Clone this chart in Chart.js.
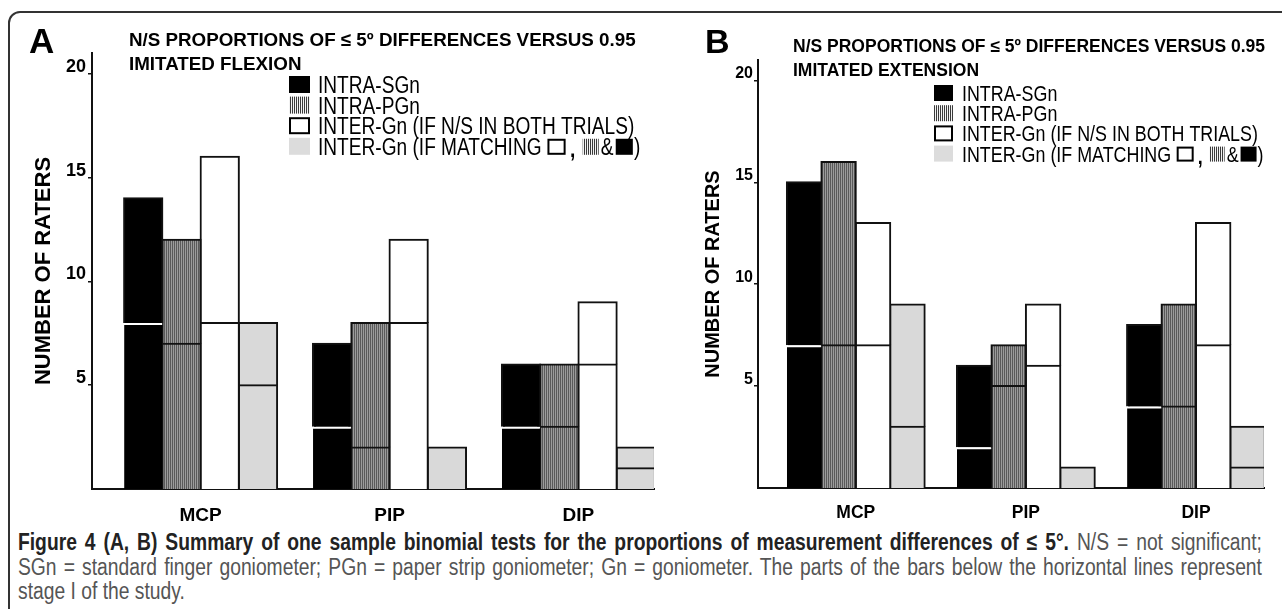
<!DOCTYPE html>
<html>
<head>
<meta charset="utf-8">
<script src="https://cdn.jsdelivr.net/npm/chart.js@4.4.1/dist/chart.umd.min.js"></script>
<style>
  html, body { margin: 0; padding: 0; background: #fff; }
  body { width: 1282px; height: 609px; position: relative; overflow: hidden; font-family: "Liberation Sans", Arial, sans-serif; }
  #frame { position: absolute; left: 8px; top: 11px; width: 1300px; height: 620px; border: 2px solid #333; border-top-left-radius: 12px; box-sizing: border-box; }
  canvas { position: absolute; top: 0; }
  #chartA { left: 0; }
  #chartB { left: 670px; }
  #caption { position: absolute; left: 18px; top: 530px; width: 1517px; transform: scaleX(0.82); transform-origin: 0 0; font-size: 23.5px; line-height: 24.5px; color: #555; }
  #caption .j { text-align: justify; text-align-last: justify; }
  #caption b { color: #222; }
</style>
</head>
<body>
<div id="frame"></div>
<canvas id="chartA" width="670" height="525"></canvas>
<canvas id="chartB" width="612" height="525"></canvas>
<div id="caption">
  <div class="j"><b>Figure 4 (A, B) Summary of one sample binomial tests for the proportions of measurement differences of ≤ 5°.</b> N/S = not significant;</div>
  <div class="j">SGn = standard finger goniometer; PGn = paper strip goniometer; Gn = goniometer. The parts of the bars below the horizontal lines represent</div>
  <div>stage I of the study.</div>
</div>
<script>
const joints = ['MCP', 'PIP', 'DIP']
const yTicks = [5, 10, 15, 20]
const seriesNames = ['INTRA-SGn', 'INTRA-PGn', 'INTER-Gn (IF N/S IN BOTH TRIALS)', 'INTER-Gn (IF MATCHING']

// A - imitated flexion: bar heights and the stage I part (below the line)
const flexSgn = [14, 7, 6]
const flexSgnStage1 = [8, 3, 3]
const flexPgn = [12, 8, 6]
const flexPgnStage1 = [7, 2, 3]
const flexInter = [16, 12, 9]
const flexInterStage1 = [8, 8, 6]
const flexMatch = [8, 2, 2]
const flexMatchStage1 = [5, 2, 1]

// B - imitated extension
const extSgn = [15, 6, 8]
const extSgnStage1 = [7, 2, 4]
const extPgn = [16, 7, 9]
const extPgnStage1 = [7, 5, 4]
const extInter = [13, 9, 13]
const extInterStage1 = [7, 6, 7]
const extMatch = [9, 1, 3]
const extMatchStage1 = [3, 1, 1]

const sans = '"Liberation Sans", Arial, sans-serif'
Chart.defaults.font.family = sans

function stripes(colors){
    const c = document.createElement('canvas')
    c.width = colors.length
    c.height = 4
    const g = c.getContext('2d')
    colors.forEach((col, i) => { g.fillStyle = col; g.fillRect(i, 0, 1, 4) })
    return g.createPattern(c, 'repeat')
}
const barStripes = stripes(['#5a5a5a', '#9c9c9c'])
const keyStripes = stripes(['#3a3a3a', '#f2f2f2'])
const fills = ['#000000', barStripes, '#ffffff', '#d9d9d9']

function makeDatasets(totals, stage1s){
    let sets = []
    for(let i = 0 ; i < totals.length ; i++)
    {
        const lower = stage1s[i]
        const upper = totals[i].map((v, j) => v - lower[j])
        sets.push({
            label: seriesNames[i] + ' stage I',
            stack: 's' + i,
            data: lower.map((v, j) => ({x: j, y: v})),
            backgroundColor: fills[i],
            borderColor: i === 0 ? '#ffffff' : '#111111',
            borderWidth: i === 0 ? {top: 2, left: 0, right: 0, bottom: 0} : 2,
            inflateAmount: i === 0 ? 0 : 1
        })
        sets.push({
            label: seriesNames[i],
            stack: 's' + i,
            data: upper.map((v, j) => ({x: j, y: v})),
            backgroundColor: fills[i],
            borderColor: '#111111',
            borderWidth: 2,
            inflateAmount: 1
        })
    }
    return sets
}

function swatch(ctx, kind, x, y, w, h){
    if(kind === 0) { ctx.fillStyle = '#000'; ctx.fillRect(x, y, w, h) }
    else if(kind === 1) { ctx.fillStyle = keyStripes; ctx.fillRect(x, y, w, h) }
    else if(kind === 2) {
        ctx.fillStyle = '#fff'; ctx.fillRect(x, y, w, h)
        ctx.strokeStyle = '#000'; ctx.lineWidth = 2; ctx.strokeRect(x + 1, y + 1, w - 2, h - 2)
    }
    else { ctx.fillStyle = '#dcdcdc'; ctx.fillRect(x, y, w, h) }
}

// condensed text: regular face squeezed horizontally
function narrow(ctx, text, x, y){
    ctx.save()
    ctx.translate(x, y)
    ctx.scale(0.82, 1)
    ctx.fillStyle = '#000'
    ctx.fillText(text, 0, 0)
    const w = ctx.measureText(text).width * 0.82
    ctx.restore()
    return x + w
}

function textPlugin(g){
    return {
        id: 'panelText',
        afterDraw(chart){
            const ctx = chart.ctx
            ctx.save()
            ctx.fillStyle = '#000'
            ctx.textBaseline = 'alphabetic'
            ctx.font = `bold ${g.letterSize}px ${sans}`
            ctx.fillText(g.letter, g.letterX, g.letterY)
            ctx.font = `bold ${g.titleSize}px ${sans}`
            g.title.forEach((t, i) => ctx.fillText(t, g.titleX, g.titleY + i * g.titleGap))

            const k = g.legendSize / 21.8
            for(let i = 0 ; i < seriesNames.length ; i++)
            {
                const top = g.legendTop + i * g.legendGap
                const base = top + g.swH
                swatch(ctx, i, g.legendX, top, g.swW, g.swH)
                ctx.font = `${g.legendSize}px ${sans}`
                let x = narrow(ctx, seriesNames[i], g.legendTextX, base)
                if(i === 3)
                {
                    x += 5.5 * k
                    swatch(ctx, 2, x, base - 15 * k, 17 * k, 15 * k)
                    x += 21 * k
                    ctx.font = `bold ${g.legendSize}px ${sans}`
                    x = narrow(ctx, ',', x, base + 2 * k) + 7 * k
                    swatch(ctx, 1, x, base - 15 * k, 15 * k, 15 * k)
                    x += 17 * k
                    ctx.font = `${g.legendSize}px ${sans}`
                    x = narrow(ctx, '&', x, base) + 2 * k
                    swatch(ctx, 0, x, base - 15 * k, 16 * k, 15 * k)
                    x += 17 * k
                    narrow(ctx, ')', x, base)
                }
            }
            ctx.restore()
        }
    }
}

function panel(g, datasets){
    return new Chart(document.getElementById(g.id), {
        type: 'bar',
        data: { datasets: datasets },
        options: {
            responsive: false,
            animation: false,
            devicePixelRatio: 1,
            layout: { padding: g.pad },
            plugins: { legend: { display: false }, tooltip: { enabled: false }, title: { display: false } },
            datasets: { bar: { categoryPercentage: 0.81, barPercentage: 1, borderSkipped: 'start' } },
            scales: {
                x: {
                    type: 'linear', min: -0.575, max: 2.4, offset: false, stacked: true, z: 1,
                    afterBuildTicks: axis => { axis.ticks = joints.map((j, i) => ({value: i})) },
                    ticks: { callback: v => joints[v], color: '#000', padding: 7, font: { size: g.catSize, weight: 'bold' } },
                    grid: { display: false },
                    border: { display: true, color: '#111', width: 2 },
                    afterFit: axis => { axis.height = g.xHeight }
                },
                y: {
                    min: 0, max: 21, stacked: true,
                    afterBuildTicks: axis => { axis.ticks = yTicks.map(v => ({value: v})) },
                    ticks: { color: '#000', padding: g.tickPad, labelOffset: -7, font: { size: g.tickSize, weight: 'bold' } },
                    grid: { drawOnChartArea: false, drawTicks: true, tickLength: 4, color: '#111', lineWidth: 1.5 },
                    border: { display: true, color: '#111', width: 2 },
                    title: { display: true, text: 'NUMBER OF RATERS', color: '#000', padding: 0, font: { size: g.yTitleSize, weight: 'bold' } },
                    afterFit: axis => { axis.width = g.yWidth }
                }
            }
        },
        plugins: [textPlugin(g)]
    })
}

panel({
    id: 'chartA', pad: {left: 31, top: 53, right: 16, bottom: 0}, yWidth: 61, xHeight: 36,
    tickSize: 18, tickPad: 2, catSize: 19, yTitleSize: 22,
    letter: 'A', letterX: 29, letterY: 53, letterSize: 35,
    title: ['N/S PROPORTIONS OF ≤ 5º DIFFERENCES VERSUS 0.95', 'IMITATED FLEXION'],
    titleX: 129, titleY: 45.5, titleGap: 24.5, titleSize: 18.8,
    legendX: 289, legendTop: 76, legendGap: 20.6, swW: 21, swH: 17, legendTextX: 318, legendSize: 23.3
}, makeDatasets([flexSgn, flexPgn, flexInter, flexMatch], [flexSgnStage1, flexPgnStage1, flexInterStage1, flexMatchStage1]))

panel({
    id: 'chartB', pad: {left: 31, top: 60, right: 18, bottom: 0}, yWidth: 57, xHeight: 37,
    tickSize: 16, tickPad: 1, catSize: 17.5, yTitleSize: 20,
    letter: 'B', letterX: 35, letterY: 53, letterSize: 34,
    title: ['N/S PROPORTIONS OF ≤ 5º DIFFERENCES VERSUS 0.95', 'IMITATED EXTENSION'],
    titleX: 123, titleY: 52, titleGap: 24, titleSize: 17.5,
    legendX: 264, legendTop: 85, legendGap: 20.2, swW: 19, swH: 16, legendTextX: 292, legendSize: 21.8
}, makeDatasets([extSgn, extPgn, extInter, extMatch], [extSgnStage1, extPgnStage1, extInterStage1, extMatchStage1]))
</script>
</body>
</html>
